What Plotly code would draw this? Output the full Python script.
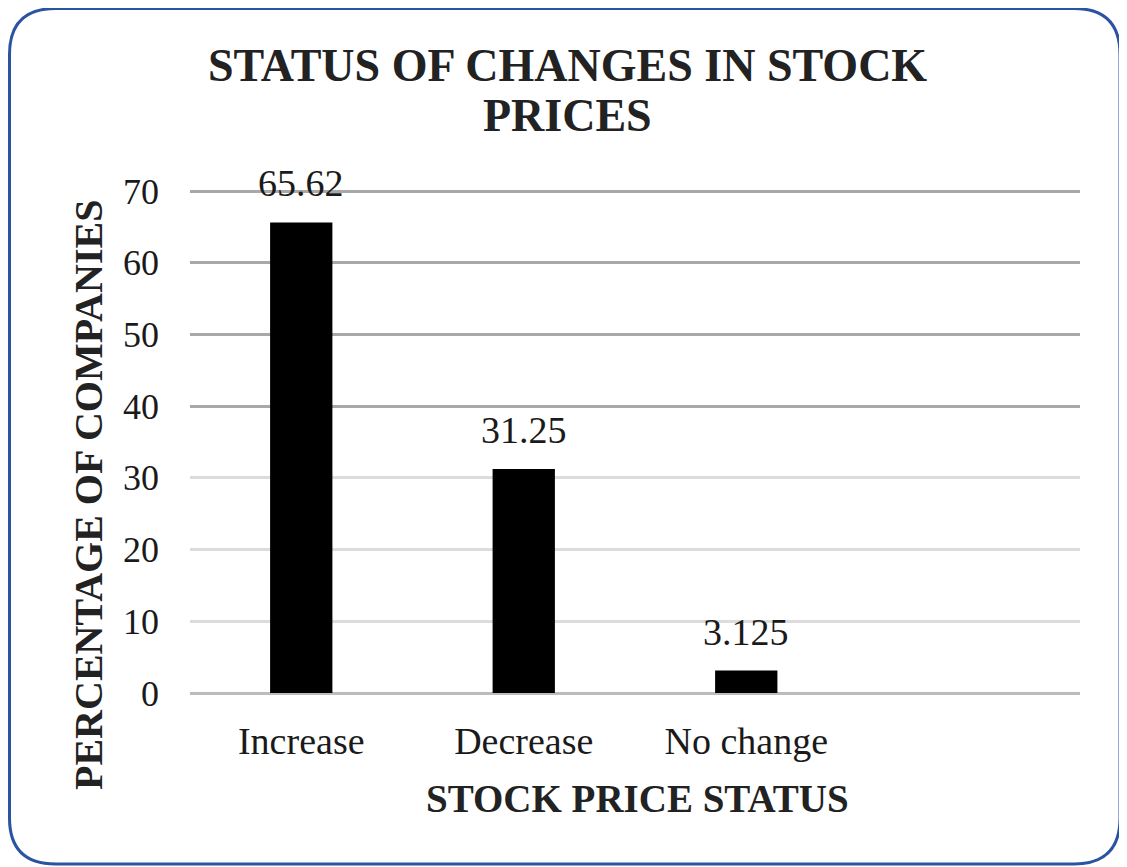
import plotly.graph_objects as go

# ---- data ----
categories = ["Increase", "Decrease", "No change"]
values = [65.62, 31.25, 3.125]
value_labels = ["65.62", "31.25", "3.125"]
y_ticks = [0, 10, 20, 30, 40, 50, 60, 70]
y_ticks_dark = [40, 50, 60, 70]
y_ticks_light = [10, 20, 30]
Y_RANGE = [0, 70.15]

# page is rendered with an 8px body margin
OFF = 8
W, H = 1127 - OFF, 867 - OFF
# plot area in page coordinates
PL, PR, PT, PB = 190, 1080, 190, 693
ML, MR, MT, MB = PL - OFF, W - (PR - OFF), PT - OFF, H - (PB - OFF)
PW, PH = PR - PL, PB - PT

def px(x):
    return (x - PL) / PW

def py(y):
    return (PB - y) / PH

SERIF = "Liberation Serif, Times New Roman, serif"

fig = go.Figure()
# invisible helper traces so the gridline axes are drawn
for ax in ["y2", "y3"]:
    fig.add_trace(go.Scatter(
        x=categories, y=values, yaxis=ax, mode="markers",
        marker=dict(opacity=0, size=1), hoverinfo="skip", showlegend=False,
    ))
fig.add_trace(go.Bar(
    x=categories, y=values, width=0.28,
    marker=dict(color="#000000", line=dict(width=0)),
    hoverinfo="skip", showlegend=False,
))

for c, v, t in zip(categories, values, value_labels):
    fig.add_annotation(x=c, y=v, text=t, showarrow=False, yanchor="bottom",
                       yshift=16, font=dict(family=SERIF, size=38, color="#1a1a1a"))

# title (two lines)
fig.add_annotation(x=px(567), y=py(66), xref="paper", yref="paper",
                   text="<b>STATUS OF CHANGES IN STOCK</b>", showarrow=False,
                   xanchor="center", yanchor="middle",
                   font=dict(family=SERIF, size=46, color="#222222"))
fig.add_annotation(x=px(567), y=py(116), xref="paper", yref="paper",
                   text="<b>PRICES</b>", showarrow=False,
                   xanchor="center", yanchor="middle",
                   font=dict(family=SERIF, size=46, color="#222222"))
# axis titles
fig.add_annotation(x=px(88), y=py(495), xref="paper", yref="paper",
                   text="<b>PERCENTAGE OF COMPANIES</b>", showarrow=False,
                   textangle=-90, xanchor="center", yanchor="middle",
                   font=dict(family=SERIF, size=40, color="#222222"))
fig.add_annotation(x=px(637), y=py(798), xref="paper", yref="paper",
                   text="<b>STOCK PRICE STATUS</b>", showarrow=False,
                   xanchor="center", yanchor="middle",
                   font=dict(family=SERIF, size=39, color="#222222"))

# rounded border
x0, x1, y0, y1, r = 9.5, 1120, 8.5, 864, 46
path = (f"M {px(x0)},{py(y0+r)} "
        f"Q {px(x0)},{py(y0)} {px(x0+r)},{py(y0)} "
        f"L {px(x1-r)},{py(y0)} "
        f"Q {px(x1)},{py(y0)} {px(x1)},{py(y0+r)} "
        f"L {px(x1)},{py(y1-r)} "
        f"Q {px(x1)},{py(y1)} {px(x1-r)},{py(y1)} "
        f"L {px(x0+r)},{py(y1)} "
        f"Q {px(x0)},{py(y1)} {px(x0)},{py(y1-r)} Z")
fig.add_shape(type="path", path=path, xref="paper", yref="paper",
              line=dict(color="#2a54a2", width=3), layer="below")

fig.update_layout(
    width=W, height=H,
    margin=dict(l=ML, r=MR, t=MT, b=MB, pad=0),
    paper_bgcolor="white", plot_bgcolor="white",
    xaxis=dict(
        type="category", categoryorder="array", categoryarray=categories,
        range=[-0.5, 3.5], showgrid=False, showline=False, ticks="",
        ticklabelstandoff=22,
        tickfont=dict(family=SERIF, size=38, color="#1a1a1a"),
    ),
    yaxis=dict(
        range=Y_RANGE, tickvals=y_ticks, showgrid=False,
        zeroline=False, showline=False, ticks="", ticklabelstandoff=30,
        tickfont=dict(family=SERIF, size=36, color="#1a1a1a"),
    ),
    yaxis2=dict(
        overlaying="y", range=Y_RANGE, tickvals=y_ticks_dark,
        showticklabels=False, showgrid=True, gridcolor="#a8a8a8", gridwidth=2.5,
        zeroline=False, showline=False, ticks="", layer="below traces",
    ),
    yaxis3=dict(
        overlaying="y", range=Y_RANGE, tickvals=y_ticks_light + [0],
        showticklabels=False, showgrid=True, gridcolor="#dcdcdc", gridwidth=2.5,
        zeroline=True, zerolinecolor="#bcbcbc", zerolinewidth=3,
        showline=False, ticks="", layer="below traces",
    ),
)

fig.write_html("out.html")
